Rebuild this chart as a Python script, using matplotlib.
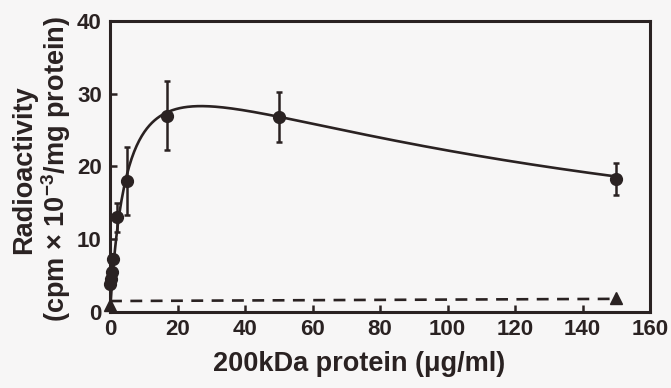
import numpy as np
import matplotlib
matplotlib.use("Agg")
import matplotlib.pyplot as plt

# punkty pomiarowe
conc = [0, 0.2, 0.5, 1, 2, 5, 17, 50, 150]
activity = [3.8, 4.5, 5.5, 7.3, 13.0, 18.0, 27.0, 26.8, 18.3]
activity_err = [0, 0, 0, 0, 2.0, 4.7, 4.8, 3.5, 2.2]

# kontrola (trójkąty, linia przerywana)
ctrl_conc = [0, 150]
ctrl_activity = [1.0, 1.9]
ctrl_line = [1.5, 1.8]

# dopasowana krzywa (inhibicja substratem)
V, K, Ki = 39.2, 5.2, 140.0

plt.rcParams["font.family"] = ["Liberation Sans", "DejaVu Sans"]
plt.rcParams["font.weight"] = "bold"
plt.rcParams["mathtext.fontset"] = "custom"
plt.rcParams["mathtext.bf"] = "Liberation Sans:bold"
plt.rcParams["mathtext.rm"] = "Liberation Sans:bold"
plt.rcParams["mathtext.default"] = "bf"

ink = "#2a2222"
fig = plt.figure(figsize=(6.71, 3.88), dpi=100, facecolor="#f7f6f6")
ax = fig.add_axes([0.164, 0.196, 0.805, 0.750])
ax.set_facecolor("#f7f6f6")

xs = np.linspace(0, 150, 400)
ax.plot(xs, V * xs / (K + xs + xs**2 / Ki), color=ink, lw=1.9, zorder=3)

eb = ax.errorbar(conc, activity, yerr=activity_err, fmt="o", color=ink, ms=8.5,
                 elinewidth=1.8, capsize=2.5, capthick=1.8, zorder=4)
for art in eb.lines[0:1] + tuple(eb.lines[1]) + tuple(eb.lines[2]):
    art.set_clip_on(False)

ax.plot(ctrl_conc, ctrl_line, color=ink, lw=1.9, dashes=(4.5, 3.2), zorder=3, clip_on=False)
ax.plot(ctrl_conc, ctrl_activity, "^", color=ink, ms=8, zorder=4, clip_on=False)

ax.set_xlim(0, 160)
ax.set_ylim(0, 40)
ax.set_xticks(range(0, 161, 20))
ax.set_yticks(range(0, 41, 10))
ax.tick_params(direction="in", length=5, width=1.8, colors=ink, labelsize=16)
ax.tick_params(axis="y", pad=6)
ax.tick_params(axis="x", pad=5)
for lab in ax.get_xticklabels() + ax.get_yticklabels():
    lab.set_fontweight("bold")
for s in ax.spines.values():
    s.set_linewidth(2.2)
    s.set_color(ink)

ax.set_xlabel("200kDa protein (\u03bcg/ml)", fontsize=19.5, fontweight="bold", color=ink)
ax.xaxis.set_label_coords(0.461, -0.135)
ax.set_ylabel("Radioactivity\n(cpm \u00d7 10$^{-3}$/mg protein)", fontsize=19.5, fontweight="bold",
              color=ink, linespacing=1.1)
ax.yaxis.set_label_coords(-0.068, 0.49)

fig.savefig("out.png", dpi=100, facecolor=fig.get_facecolor())
